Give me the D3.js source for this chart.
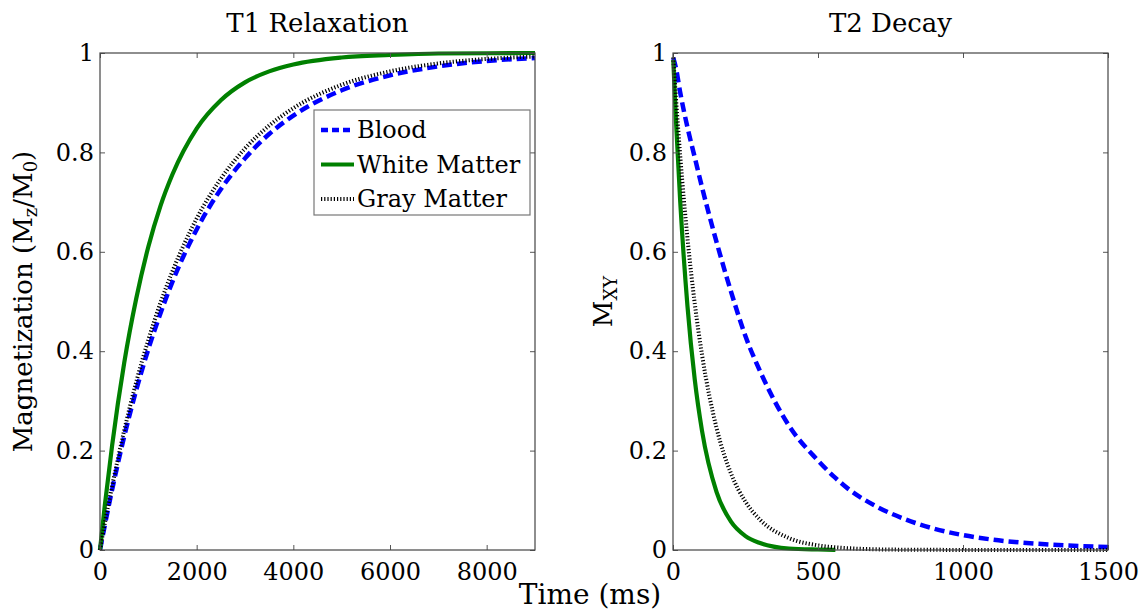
<!DOCTYPE html>
<html>
<head>
<meta charset="utf-8">
<script src="https://cdn.jsdelivr.net/npm/d3@7"></script>
<style>
  body { margin: 0; background: #fff; }
  svg { display: block; }
  text { font-family: 'DejaVu Serif', 'Liberation Serif', serif; fill: #000; }
</style>
</head>
<body>
<div class="chartWrap"></div>
<script>
var width = 1144,
  height = 614,
  seriesNames = ['Blood', 'White Matter', 'Gray Matter'],
  yTicks = [0, 0.2, 0.4, 0.6, 0.8, 1],
  t1Ticks = [0, 2000, 4000, 6000, 8000],
  t2Ticks = [0, 500, 1000, 1500];

// T1 recovery (ms, Mz/M0)
var t1Times = [0, 100, 250, 500, 750, 1000, 1250, 1500, 2000, 2500, 3000, 3500, 4000, 5000, 6000, 7000, 8000, 9000];
var t1Blood = [0, 0.050, 0.121, 0.228, 0.322, 0.404, 0.476, 0.540, 0.645, 0.726, 0.788, 0.837, 0.874, 0.925, 0.955, 0.973, 0.984, 0.990];
var t1White = [0, 0.090, 0.210, 0.376, 0.506, 0.610, 0.692, 0.756, 0.848, 0.905, 0.941, 0.963, 0.977, 0.991, 0.996, 0.999, 0.9995, 1.0];
var t1Gray = [0, 0.054, 0.128, 0.240, 0.338, 0.423, 0.497, 0.561, 0.667, 0.747, 0.808, 0.854, 0.889, 0.936, 0.963, 0.979, 0.988, 0.993];

// T2 decay (ms, Mxy); white matter trace stops near 560 ms
var t2Times = [1, 10, 25, 50, 75, 100, 150, 200, 250, 300, 400, 500, 560, 600, 700, 800, 900, 1000, 1100, 1200, 1300, 1400, 1500];
var t2Blood = [0.99, 0.97, 0.92, 0.85, 0.79, 0.73, 0.62, 0.52, 0.43, 0.36, 0.25, 0.18, 0.145, 0.125, 0.088, 0.062, 0.043, 0.03, 0.021, 0.015, 0.011, 0.008, 0.006];
var t2White = [0.986, 0.867, 0.70, 0.49, 0.343, 0.24, 0.117, 0.057, 0.028, 0.014, 0.003, 0.001, 0.0003, null, null, null, null, null, null, null, null, null, null];
var t2Gray = [0.991, 0.911, 0.792, 0.627, 0.496, 0.393, 0.246, 0.154, 0.097, 0.061, 0.024, 0.0093, 0.0053, 0.0037, 0.0014, 0.0006, 0.0003, 0.0002, 0.0001, 0, 0, 0, 0];

var lineStyles = [
  {'stroke': '#0000ff', 'width': 4.5, 'dash': '10,5'},
  {'stroke': '#008000', 'width': 4.2, 'dash': null},
  {'stroke': '#000000', 'width': 4, 'dash': '1.2,2'}
];

var panels = [
  {'title': 'T1 Relaxation', 'left': 100, 'right': 535, 'xMax': 9000, 'ticks': t1Ticks,
    'times': t1Times, 'series': [t1Blood, t1White, t1Gray]},
  {'title': 'T2 Decay', 'left': 673, 'right': 1108, 'xMax': 1500, 'ticks': t2Ticks,
    'times': t2Times, 'series': [t2Blood, t2White, t2Gray]}
];

var plotTop = 53, plotBottom = 550;

var svg = d3.select('.chartWrap')
  .append('svg')
  .attr('width', width)
  .attr('height', height);

var yScale = d3.scaleLinear().domain([0, 1]).range([plotBottom, plotTop]);
var fmt = d3.format('~g');

panels.forEach(function(p, pi){
  var xScale = d3.scaleLinear().domain([0, p.xMax]).range([p.left, p.right]);
  var g = svg.append('g').attr('class', 'panel');

  // curves
  p.series.forEach(function(vals, si){
    var pts = p.times.map(function(t, i){ return [t, vals[i]]; });
    var line = d3.line()
      .defined(function(d){ return d[1] !== null; })
      .x(function(d){ return xScale(d[0]); })
      .y(function(d){ return yScale(d[1]); })
      .curve(d3.curveMonotoneX);
    g.append('path')
      .datum(pts)
      .attr('fill', 'none')
      .attr('stroke', lineStyles[si].stroke)
      .attr('stroke-width', lineStyles[si].width)
      .attr('stroke-dasharray', lineStyles[si].dash)
      .attr('d', line);
  });

  // axes, ticks inside like matlab
  var xb = g.append('g')
    .attr('transform', 'translate(0,' + plotBottom + ')')
    .call(d3.axisBottom(xScale).tickValues(p.ticks).tickSizeInner(-5).tickSizeOuter(0).tickPadding(13).tickFormat(fmt));
  var xt = g.append('g')
    .attr('transform', 'translate(0,' + plotTop + ')')
    .call(d3.axisTop(xScale).tickValues(p.ticks).tickSizeInner(-5).tickSizeOuter(0).tickFormat(''));
  var yl = g.append('g')
    .attr('transform', 'translate(' + p.left + ',0)')
    .call(d3.axisLeft(yScale).tickValues(yTicks).tickSizeInner(-5).tickSizeOuter(0).tickPadding(6).tickFormat(fmt));
  var yr = g.append('g')
    .attr('transform', 'translate(' + p.right + ',0)')
    .call(d3.axisRight(yScale).tickValues(yTicks).tickSizeInner(-5).tickSizeOuter(0).tickFormat(''));

  [xb, xt, yl, yr].forEach(function(a){
    a.select('.domain').remove();
    a.attr('font-size', 24).attr('font-family', null);
    a.selectAll('line').attr('stroke', '#555');
  });

  g.append('rect')
    .attr('x', p.left)
    .attr('y', plotTop)
    .attr('width', p.right - p.left)
    .attr('height', plotBottom - plotTop)
    .attr('fill', 'none')
    .attr('stroke', '#444')
    .attr('stroke-width', 1.2);

  g.append('text')
    .attr('x', (p.left + p.right) / 2)
    .attr('y', 32)
    .attr('text-anchor', 'middle')
    .style('font-size', '26px')
    .text(p.title);
});

// y labels with subscripts
var yLab1 = svg.append('text')
  .attr('transform', 'translate(32,' + ((plotTop + plotBottom) / 2) + ') rotate(-90)')
  .attr('text-anchor', 'middle')
  .style('font-size', '26px');
yLab1.append('tspan').text('Magnetization (M');
yLab1.append('tspan').attr('baseline-shift', '-25%').style('font-size', '18px').text('z');
yLab1.append('tspan').text('/M');
yLab1.append('tspan').attr('baseline-shift', '-25%').style('font-size', '18px').text('0');
yLab1.append('tspan').text(')');

var yLab2 = svg.append('text')
  .attr('transform', 'translate(612,' + ((plotTop + plotBottom) / 2) + ') rotate(-90)')
  .attr('text-anchor', 'middle')
  .style('font-size', '26px');
yLab2.append('tspan').text('M');
yLab2.append('tspan').attr('baseline-shift', '-25%').style('font-size', '18px').text('XY');

svg.append('text')
  .attr('x', 590)
  .attr('y', 604)
  .attr('text-anchor', 'middle')
  .style('font-size', '28px')
  .text('Time (ms)');

// legend
var legend = svg.append('g').attr('class', 'legend');
legend.append('rect')
  .attr('x', 314).attr('y', 110)
  .attr('width', 216).attr('height', 105)
  .attr('fill', '#fff')
  .attr('stroke', '#777')
  .attr('stroke-width', 1.2);

var rows = legend.selectAll('.legRow')
  .data(seriesNames)
  .enter()
  .append('g')
  .attr('class', 'legRow')
  .attr('transform', function(d, i){ return 'translate(0,' + (130 + i * 34.5) + ')'; });

rows.append('line')
  .attr('x1', 321).attr('x2', 354)
  .attr('y1', 0).attr('y2', 0)
  .attr('stroke', function(d, i){ return lineStyles[i].stroke; })
  .attr('stroke-width', function(d, i){ return lineStyles[i].width; })
  .attr('stroke-dasharray', function(d, i){ return i === 0 ? '7,4' : lineStyles[i].dash; });

rows.append('text')
  .attr('x', 357)
  .attr('dy', '0.35em')
  .style('font-size', '24px')
  .text(function(d){ return d; });
</script>
</body>
</html>
